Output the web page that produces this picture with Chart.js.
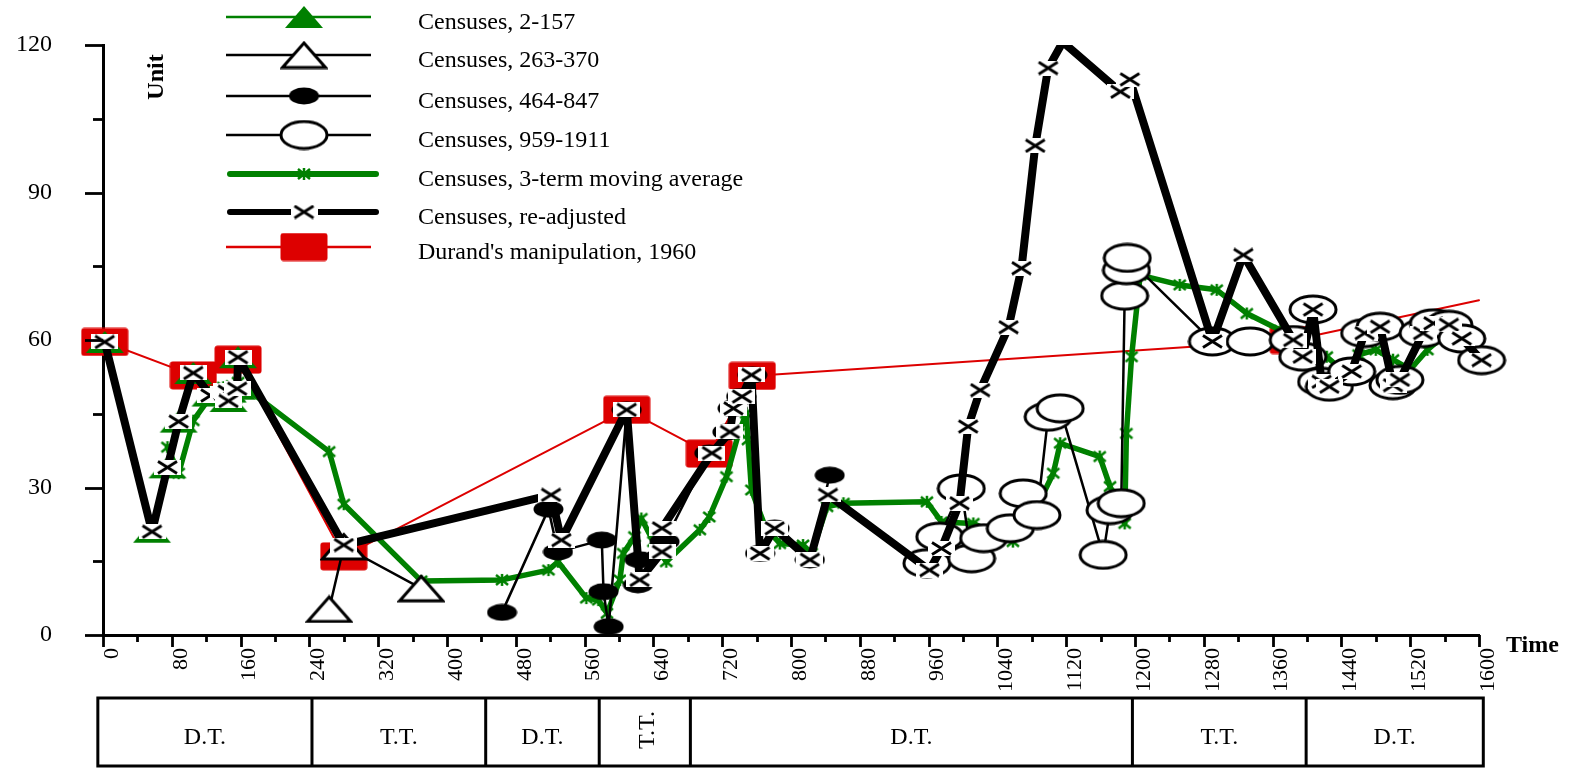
<!DOCTYPE html>
<html>
<head>
<meta charset="utf-8">
<title>Censuses of China, 2-1600</title>
<script src="https://cdn.jsdelivr.net/npm/chart.js@4.4.1/dist/chart.umd.min.js"></script>
<style>
  html, body { margin: 0; padding: 0; background: #fff; }
  #wrap { width: 1573px; height: 768px; position: relative; }
</style>
</head>
<body>
<div id="wrap"><canvas id="chart" width="1573" height="768"></canvas></div>
<script>
// ---------------- data (year, millions) ----------------
const censusHan = [[2,59.6],[57,21.0],[75,34.1],[88,43.4],[105,53.3],[125,48.7],[140,49.2],[144,49.7],[145,49.5],[146,47.6],[156,50.1],[157,56.5]];
const censusJin = [[263,5.3],[280,18.0],[370,9.5]];
const censusTang = [[464,4.6],[518,25.6],[529,16.9],[580,19.3],[582,8.8],[588,1.7],[609,45.8],[622,10.2],[624,15.3],[653,19.0],
  [705,37.0],[726,41.3],[732,46.1],[742,48.5],[755,52.9],[764,16.6],[781,21.7],[822,15.3],[845,32.5]];
const censusSongMing = [[958,14.6],[973,20.0],[998,29.8],[1010,15.6],[1024,19.7],[1055,21.7],[1070,28.8],[1086,24.4],[1099,44.4],[1113,46.1],
  [1163,16.3],[1171,25.4],[1184,26.8],[1188,69.0],[1190,74.2],[1191,76.7],[1290,59.7],[1334,59.7],
  [1384,60.0],[1395,56.6],[1407,66.2],[1417,51.5],[1426,50.5],[1452,53.6],[1467,61.4],[1485,62.7],[1500,50.8],[1508,51.9],
  [1535,61.4],[1547,63.4],[1565,63.1],[1580,60.3],[1603,55.9]];
const movingAverage = [[75,38.2],[88,32.9],[105,43.6],[125,48.5],[140,50.4],[144,49.2],[145,49.5],[146,48.9],[156,49.1],[157,51.4],
  [263,37.3],[280,26.6],[370,11.0],[464,11.2],[518,13.2],[529,14.9],[562,7.5],[576,7.1],[586,4.4],[601,11.2],[605,16.6],[618,20.0],
  [626,23.7],[640,19.0],[655,14.9],[694,21.4],[705,24.0],[725,32.2],[739,41.0],[748,45.1],[750,39.7],[754,29.5],[770,22.0],[787,18.6],
  [814,18.3],[824,16.6],[842,26.1],[861,26.8],[958,27.1],[975,23.0],[1012,22.7],[1058,19.0],[1090,27.5],[1105,32.9],[1113,39.0],
  [1159,36.3],[1171,30.2],[1188,22.7],[1190,41.0],[1196,56.6],[1206,73.2],[1252,71.2],[1295,70.2],[1330,65.4],[1369,62.0],
  [1423,56.6],[1440,54.0],[1460,57.0],[1480,58.0],[1500,56.0],[1520,54.0],[1540,58.0],[1560,61.0],[1580,61.5],[1598,60.5]];
const reAdjusted = [[2,59.6],[57,21.0],[75,34.1],[88,43.4],[105,53.3],[125,48.7],[140,49.2],[144,49.7],[145,49.5],[146,47.6],[156,50.1],[157,56.5],
  [280,18.3],[521,28.5],[533,19.3],[609,45.8],[624,11.2],[650,16.9],[650,21.7],[708,37.0],[729,41.3],[733,46.1],[743,48.5],[754,52.9],
  [764,16.6],[781,21.7],[822,15.3],[843,28.5],[961,13.2],[975,17.6],[996,26.8],[1006,42.4],[1020,49.8],[1053,62.6],[1068,74.6],
  [1084,99.5],[1099,115.3],[1116,120.6],[1183,110.5],[1194,113.0],[1290,59.7],[1326,77.3],
  [1384,60.0],[1395,56.6],[1407,66.2],[1417,51.5],[1426,50.5],[1452,53.6],[1467,61.4],[1485,62.7],[1500,50.8],[1508,51.9],
  [1535,61.4],[1547,63.4],[1565,63.1],[1580,60.3],[1603,55.9]];
const durand1960 = [[2,59.6],[105,52.8],[157,56.0],[280,16.0],[609,45.8],[705,36.9],[755,52.7],[1384,60.0],[1600,68.1]];

// dynastic periods shown in the band under the axis
const periodBounds = [-6, 243, 445, 577, 683, 1197, 1399, 1605];
const periodLabels = ['D.T.', 'T.T.', 'D.T.', 'T.T.', 'D.T.', 'T.T.', 'D.T.'];

const X_MIN = 0, X_MAX = 1600, X_STEP = 80;
const Y_MIN = 0, Y_MAX = 120, Y_STEP = 30;

// ---------------- marker images ----------------
const GREEN = '#008000', RED = '#dd0000';
const SERIF = '"Liberation Serif", "Times New Roman", serif';

function marker(w, h, paint) {
  const c = document.createElement('canvas');
  c.width = w; c.height = h;
  paint(c.getContext('2d'), w, h);
  return c;
}
const mkTriGreen = marker(40, 24, (g, w, h) => {
  g.beginPath(); g.moveTo(w / 2, 1); g.lineTo(w - 1, h - 1); g.lineTo(1, h - 1); g.closePath();
  g.fillStyle = GREEN; g.fill();
});
const mkTriOpen = marker(48, 29, (g, w, h) => {
  g.beginPath(); g.moveTo(w / 2, 2.5); g.lineTo(w - 2.5, h - 2); g.lineTo(2.5, h - 2); g.closePath();
  g.fillStyle = '#fff'; g.fill(); g.lineWidth = 3; g.strokeStyle = '#000'; g.stroke();
});
const mkDot = marker(31, 18, (g, w, h) => {
  g.beginPath(); g.ellipse(w / 2, h / 2, w / 2 - 0.5, h / 2 - 0.5, 0, 0, Math.PI * 2);
  g.fillStyle = '#000'; g.fill();
});
const mkRing = marker(50, 31, (g, w, h) => {
  g.beginPath(); g.ellipse(w / 2, h / 2, w / 2 - 2, h / 2 - 2, 0, 0, Math.PI * 2);
  g.fillStyle = '#fff'; g.fill(); g.lineWidth = 3; g.strokeStyle = '#000'; g.stroke();
});
const mkStar = marker(16, 14, (g, w, h) => {
  g.strokeStyle = GREEN; g.lineWidth = 2.5; g.beginPath();
  g.moveTo(2, 2); g.lineTo(w - 2, h - 2); g.moveTo(w - 2, 2); g.lineTo(2, h - 2);
  g.moveTo(w / 2, 1); g.lineTo(w / 2, h - 1); g.stroke();
});
const mkCross = marker(27, 15, (g, w, h) => {
  g.fillStyle = '#fff'; g.fillRect(0, 0, w, h);
  g.strokeStyle = '#000'; g.lineWidth = 2.8; g.beginPath();
  g.moveTo(4, 1.5); g.lineTo(w - 4, h - 1.5); g.moveTo(w - 4, 1.5); g.lineTo(4, h - 1.5); g.stroke();
});
const mkSquare = marker(48, 29, (g, w, h) => {
  g.fillStyle = RED; g.beginPath(); g.roundRect(0.5, 0.5, w - 1, h - 1, 3); g.fill();
});

const pts = arr => arr.map(([x, y]) => ({ x, y }));
const base = { showLine: true, fill: false, tension: 0, borderJoinStyle: 'round', borderCapStyle: 'round',
               pointRadius: 10, pointHoverRadius: 10, pointBorderWidth: 1, clip: false };

const dsHan = Object.assign({}, base, { label: 'Censuses, 2-157', data: pts(censusHan), borderColor: GREEN, borderWidth: 2,
  pointStyle: mkTriGreen, order: 5 });
const dsJin = Object.assign({}, base, { label: 'Censuses, 263-370', data: pts(censusJin), borderColor: '#000', borderWidth: 2.5,
  pointStyle: mkTriOpen, order: 4 });
const dsTang = Object.assign({}, base, { label: 'Censuses, 464-847', data: pts(censusTang), borderColor: '#000', borderWidth: 2.5,
  pointStyle: mkDot, order: 3 });
const dsSongMing = Object.assign({}, base, { label: 'Censuses, 959-1911', data: pts(censusSongMing), borderColor: '#000', borderWidth: 2.5,
  pointStyle: mkRing, order: 2 });
const dsAvg = Object.assign({}, base, { label: 'Censuses, 3-term moving average', data: pts(movingAverage), borderColor: GREEN, borderWidth: 5.5,
  pointStyle: mkStar, order: 6 });
const dsAdj = Object.assign({}, base, { label: 'Censuses, re-adjusted', data: pts(reAdjusted), borderColor: '#000', borderWidth: 8,
  pointStyle: mkCross, order: 1, clip: { left: false, top: 0, right: false, bottom: false },
  pointRadius: c => (c.raw && c.raw.y > Y_MAX) ? 0 : 10 });
const dsDurand = Object.assign({}, base, { label: "Durand's manipulation, 1960", data: pts(durand1960), borderColor: RED, borderWidth: 2,
  pointStyle: mkSquare, order: 7,
  pointRadius: c => (c.raw && c.raw.x >= X_MAX) ? 0 : 10 });

const legendOrder = [dsHan, dsJin, dsTang, dsSongMing, dsAvg, dsAdj, dsDurand];
const legendRowsY = [17, 55, 96, 135, 174, 212, 247];

// ---------------- decorations: ticks, band, legend, titles ----------------
const decorations = {
  id: 'decorations',
  afterDraw(chart) {
    const { ctx, scales: { x, y } } = chart;
    const ax = x.getPixelForValue(X_MIN);
    const ay = y.getPixelForValue(Y_MIN);
    ctx.save();
    ctx.strokeStyle = '#000';
    ctx.lineWidth = 2.8;
    ctx.lineCap = 'butt';
    // y ticks (minor every half step)
    for (let v = Y_MIN; v <= Y_MAX; v += Y_STEP / 2) {
      const py = Math.round(y.getPixelForValue(v)) + 0.5;
      const len = (v % Y_STEP === 0) ? 18 : 10;
      ctx.beginPath(); ctx.moveTo(ax - len, py); ctx.lineTo(ax, py); ctx.stroke();
    }
    // x ticks (minor every half step)
    for (let v = X_MIN; v <= X_MAX; v += X_STEP / 2) {
      const px = Math.round(x.getPixelForValue(v)) + 0.5;
      const len = (v % X_STEP === 0) ? 12 : 7;
      ctx.beginPath(); ctx.moveTo(px, ay); ctx.lineTo(px, ay + len); ctx.stroke();
    }

    // period band
    const bandTop = 698, bandBot = 766;
    ctx.lineWidth = 3;
    const bx = periodBounds.map(v => x.getPixelForValue(v));
    ctx.beginPath();
    ctx.moveTo(bx[0], bandTop); ctx.lineTo(bx[bx.length - 1], bandTop);
    ctx.moveTo(bx[0], bandBot); ctx.lineTo(bx[bx.length - 1], bandBot);
    bx.forEach(p => { ctx.moveTo(p, bandTop - 1.5); ctx.lineTo(p, bandBot + 1.5); });
    ctx.stroke();
    ctx.fillStyle = '#000';
    ctx.font = '24px ' + SERIF;
    ctx.textAlign = 'center';
    periodLabels.forEach((lab, i) => {
      const cx = (bx[i] + bx[i + 1]) / 2;
      if (bx[i + 1] - bx[i] < 100) {
        ctx.save();
        ctx.translate(cx + 3, (bandTop + bandBot) / 2 - 2);
        ctx.rotate(-Math.PI / 2);
        ctx.textBaseline = 'middle';
        ctx.fillText(lab, 0, 0);
        ctx.restore();
      } else {
        ctx.textBaseline = 'alphabetic';
        ctx.fillText(lab, cx, 744);
      }
    });

    // axis titles
    ctx.font = 'bold 24px ' + SERIF;
    ctx.textAlign = 'left';
    ctx.textBaseline = 'alphabetic';
    ctx.fillText('Time', 1506, 652);
    ctx.save();
    ctx.translate(163, 77);
    ctx.rotate(-Math.PI / 2);
    ctx.textAlign = 'center';
    ctx.fillText('Unit', 0, 0);
    ctx.restore();

    // legend
    ctx.font = '24px ' + SERIF;
    legendOrder.forEach((ds, i) => {
      const ly = legendRowsY[i];
      const thick = ds.borderWidth > 4;
      ctx.strokeStyle = ds.borderColor;
      ctx.lineWidth = thick ? 6 : 2.5;
      ctx.lineCap = thick ? 'round' : 'butt';
      ctx.beginPath(); ctx.moveTo(thick ? 230 : 226, ly); ctx.lineTo(thick ? 376 : 371, ly); ctx.stroke();
      const img = ds.pointStyle;
      ctx.drawImage(img, 304 - img.width / 2, ly - img.height / 2);
      ctx.fillStyle = '#000';
      ctx.textAlign = 'left';
      ctx.textBaseline = 'alphabetic';
      ctx.fillText(ds.label, 418, ly + 12);
    });
    ctx.restore();
  }
};

new Chart(document.getElementById('chart'), {
  type: 'line',
  data: { datasets: [dsAdj, dsSongMing, dsTang, dsJin, dsHan, dsAvg, dsDurand] },
  options: {
    responsive: false,
    animation: false,
    events: [],
    layout: { padding: { left: 0, top: 45, right: 94, bottom: 0 } },
    plugins: { legend: { display: false }, tooltip: { enabled: false } },
    scales: {
      x: {
        type: 'linear', min: X_MIN, max: X_MAX,
        afterFit: s => { s.height = 133; },
        grid: { display: true, drawOnChartArea: false, drawTicks: true, tickLength: 13, tickColor: 'rgba(0,0,0,0)', tickWidth: 0 },
        border: { display: true, color: '#000', width: 3 },
        ticks: { stepSize: X_STEP, autoSkip: false, minRotation: 90, maxRotation: 90, labelOffset: 9, padding: 0,
                 color: '#000', font: { family: SERIF, size: 22 }, callback: v => String(v) }
      },
      y: {
        type: 'linear', min: Y_MIN, max: Y_MAX,
        afterFit: s => { s.width = 103; },
        grid: { display: true, drawOnChartArea: false, drawTicks: true, tickLength: 51, tickColor: 'rgba(0,0,0,0)', tickWidth: 0 },
        border: { display: true, color: '#000', width: 3 },
        ticks: { stepSize: Y_STEP, padding: 0, color: '#000', font: { family: SERIF, size: 24 }, callback: v => String(v) }
      }
    }
  },
  plugins: [decorations]
});
</script>
</body>
</html>
